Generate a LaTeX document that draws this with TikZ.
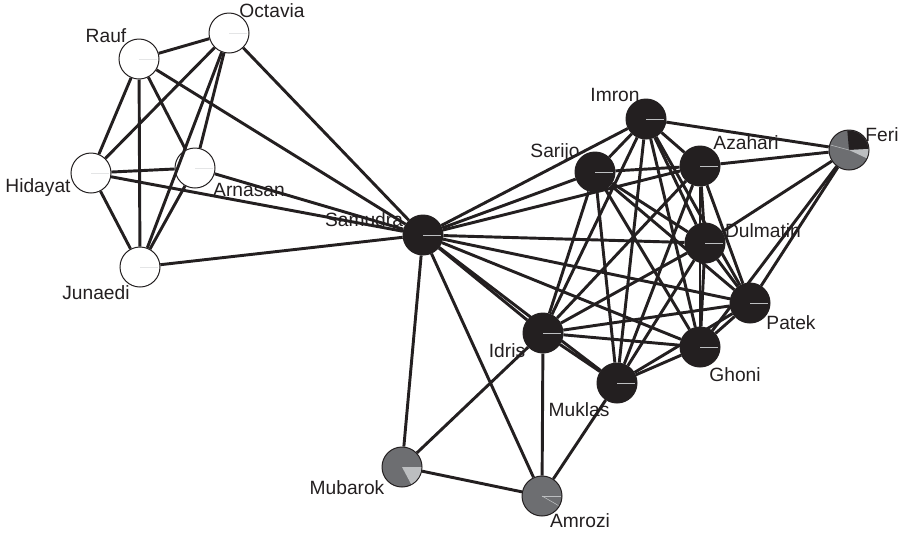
\documentclass[tikz,border=0pt]{standalone}
\usepackage{fontspec}
\setmainfont{Liberation Sans}
\definecolor{ink}{RGB}{35,31,32}
\definecolor{pie}{RGB}{109,110,113}
\definecolor{pielight}{RGB}{188,190,192}
\tikzset{every picture/.style={line width=0.75pt}}
\tikzset{
  actor/.style={circle, draw=ink, line width=0.75pt, minimum size=30pt, inner sep=0pt},
  bomber/.style={actor, fill=ink},
  outsider/.style={actor, fill=white},
  mixnode/.style={actor, fill=pie},
  tie/.style={draw=ink, line width=2.2pt},
  tag/.style={font=\fontsize{14.4}{16}\selectfont, text=ink, inner sep=0pt, anchor=base},
  glint/.style={draw=pielight, line width=0.4pt},
}

\begin{document}
\begin{tikzpicture}[x=0.75pt,y=0.75pt,yscale=-1,xscale=1]
	\useasboundingbox (0,0) rectangle (905,540);

	%Shape: Circles, left group
	\node[outsider] (rauf) at (139,59) {};
	\node[outsider] (octavia) at (229,33) {};
	\node[outsider] (hidayat) at (91,173) {};
	\node[outsider] (arnasan) at (195,168) {};
	\node[outsider] (junaedi) at (140,267) {};
	%Shape: Circles, right group
	\node[bomber] (samudra) at (423,235) {};
	\node[bomber] (imron) at (646,119) {};
	\node[bomber] (sarijo) at (595,172) {};
	\node[bomber] (azahari) at (700,166) {};
	\node[bomber] (dulmatin) at (705,243) {};
	\node[bomber] (patek) at (750,303) {};
	\node[bomber] (idris) at (543,333) {};
	\node[bomber] (ghoni) at (700,347) {};
	\node[bomber] (muklas) at (617,383) {};
	\node[mixnode] (feri) at (849,150) {};
	\node[mixnode] (mubarok) at (402,467) {};
	\node[mixnode] (amrozi) at (542,496) {};

	%Straight Lines
	\foreach \a/\b in {rauf/octavia, rauf/hidayat, rauf/junaedi, rauf/arnasan, rauf/samudra,
	  octavia/hidayat, octavia/arnasan, octavia/junaedi, octavia/samudra,
	  hidayat/arnasan, hidayat/junaedi, hidayat/samudra,
	  arnasan/junaedi, arnasan/samudra, junaedi/samudra}
	  \draw[tie] (\a) -- (\b);
	\foreach \a/\b in {samudra/imron, samudra/sarijo, samudra/azahari, samudra/dulmatin,
	  samudra/patek, samudra/ghoni, samudra/idris, samudra/muklas, samudra/mubarok, samudra/amrozi,
	  imron/feri, imron/sarijo, imron/azahari, imron/dulmatin, imron/patek, imron/ghoni,
	  imron/idris, imron/muklas,
	  sarijo/azahari, sarijo/dulmatin, sarijo/patek, sarijo/ghoni, sarijo/idris, sarijo/muklas,
	  azahari/feri, azahari/dulmatin, azahari/patek, azahari/ghoni, azahari/idris, azahari/muklas,
	  dulmatin/feri, dulmatin/patek, dulmatin/ghoni, dulmatin/idris, dulmatin/muklas,
	  feri/patek, feri/ghoni,
	  patek/ghoni, patek/idris, patek/muklas,
	  ghoni/idris, ghoni/muklas,
	  idris/muklas, idris/mubarok, idris/amrozi,
	  muklas/amrozi, mubarok/amrozi}
	  \draw[tie] (\a) -- (\b);

	%Shape: Pie slices
	\fill[ink] (feri.center) -- ++(-95:19.4) arc[start angle=-95, end angle=-3, radius=19.4] -- cycle;
	\fill[pielight] (feri.center) -- ++(-3:19.4) arc[start angle=-3, end angle=25, radius=19.4] -- cycle;
	\draw[glint] (feri.center) -- ++(-165:19);
	\fill[pielight] (mubarok.center) -- ++(0:19.4) arc[start angle=0, end angle=62, radius=19.4] -- cycle;
	\draw[glint] (amrozi.center) -- ++(0:19);
	\draw[glint] (amrozi.center) -- ++(30:19);
	\foreach \n in {samudra, imron, sarijo, azahari, dulmatin, patek, idris, ghoni, muklas}
	  \draw[glint] (\n.center) -- ++(0:18);
	\foreach \n in {rauf, octavia, hidayat, arnasan, junaedi}
	  \draw[draw=pielight!40, line width=0.4pt] (\n.center) -- ++(0:18);

	% Text Node
	\node[tag] (lOctavia) at (272,17) {Octavia};
	\node[tag] (lRauf) at (106,42) {Rauf};
	\node[tag] (lHidayat) at (38,192) {Hidayat};
	\node[tag] (lArnasan) at (249,196) {Arnasan};
	\node[tag] (lJunaedi) at (96,299) {Junaedi};
	\node[tag] (lSamudra) at (364,226) {Samudra};
	\node[tag] (lImron) at (615,101) {Imron};
	\node[tag] (lSarijo) at (555,157) {Sarijo};
	\node[tag] (lAzahari) at (746,149) {Azahari};
	\node[tag] (lFeri) at (882,141) {Feri};
	\node[tag] (lDulmatin) at (763,237) {Dulmatin};
	\node[tag] (lPatek) at (791,329) {Patek};
	\node[tag] (lGhoni) at (735,381) {Ghoni};
	\node[tag] (lIdris) at (507,357) {Idris};
	\node[tag] (lMuklas) at (579,416) {Muklas};
	\node[tag] (lMubarok) at (347,494) {Mubarok};
	\node[tag] (lAmrozi) at (580,527) {Amrozi};

\end{tikzpicture}
\end{document}
